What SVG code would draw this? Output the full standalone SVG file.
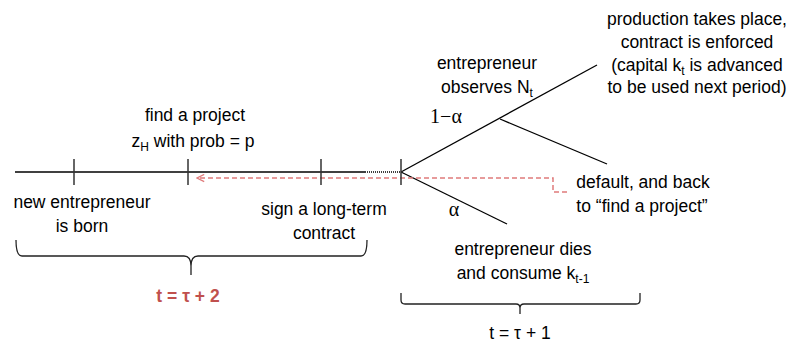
<svg xmlns="http://www.w3.org/2000/svg" width="793" height="342" viewBox="0 0 793 342">
<defs>
<style>
.t{font-family:"Liberation Sans","Open Sans",sans-serif;font-size:17.5px;fill:#000;text-anchor:middle}
.g{font-family:"Liberation Serif","Times New Roman",serif;font-size:20px;fill:#000;text-anchor:middle}
.s{font-size:12px}
.ln{stroke:#000;stroke-width:1.3;fill:none}
.tk{stroke:#333;stroke-width:1.5;fill:none}
.br{stroke:#222;stroke-width:1.3;fill:none}
.red{stroke:#e07b7b;stroke-width:1.5;stroke-dasharray:5 3;fill:none}
</style>
<marker id="ah" viewBox="0 0 10 10" refX="9" refY="5" markerWidth="9" markerHeight="9" markerUnits="userSpaceOnUse" orient="auto">
<path d="M1,1 L9,5 L1,9" fill="none" stroke="#e07b7b" stroke-width="1.4"/>
</marker>
</defs>
<g id="connectors">
<line class="ln" x1="15" y1="172" x2="365" y2="172"/>
<line x1="365" y1="172" x2="401" y2="172" stroke="#000" stroke-width="1.3" stroke-dasharray="1 1"/>
<line class="ln" x1="401" y1="172" x2="597" y2="65"/>
<line class="ln" x1="500" y1="119" x2="607" y2="164"/>
<line class="ln" x1="401" y1="172" x2="507" y2="224"/>
<path class="red" d="M567,192 L553,192 L553,178 L197,178" marker-end="url(#ah)"/>
</g>
<g id="ticks">
<line class="tk" x1="74" y1="159" x2="74" y2="185"/>
<line class="tk" x1="188" y1="159" x2="188" y2="185"/>
<line class="tk" x1="321" y1="159" x2="321" y2="185"/>
<line class="tk" x1="401" y1="159" x2="401" y2="185"/>
</g>
<g id="brace-left">
<path class="br" d="M16,240 Q16,256 22,256 L184,256 Q191,256 191,266 L191,275 M191,266 Q191,256 198,256 L361,256 Q367,256 367,240"/>
</g>
<g id="brace-right">
<path class="br" d="M401,293 L401,300 Q401,304 405,304 L516,304 Q520,304 520,308 L520,314 M520,308 Q520,304 524,304 L636,304 Q640,304 640,300 L640,293"/>
</g>
<g id="node-production">
<text class="t" x="697" y="25">production takes place,</text>
<text class="t" x="697" y="48">contract is enforced</text>
<text class="t" x="697" y="71">(capital k<tspan class="s" dy="4">t</tspan><tspan dy="-4"> is advanced</tspan></text>
<text class="t" x="697" y="93">to be used next period)</text>
</g>
<g id="node-observes">
<text class="t" x="487" y="69">entrepreneur</text>
<text class="t" x="487" y="93">observes N<tspan class="s" dy="4">t</tspan></text>
</g>
<g id="label-1-alpha">
<text class="g" x="446" y="123">1−α</text>
</g>
<g id="label-alpha">
<text class="g" x="454" y="216">α</text>
</g>
<g id="node-find">
<text class="t" x="195" y="121">find a project</text>
<text class="t" x="193" y="147">z<tspan class="s" dy="4">H</tspan><tspan dy="-4"> with prob = p</tspan></text>
</g>
<g id="node-born">
<text class="t" x="82" y="208">new entrepreneur</text>
<text class="t" x="82" y="232">is born</text>
</g>
<g id="node-sign">
<text class="t" x="324" y="215">sign a long-term</text>
<text class="t" x="324" y="239">contract</text>
</g>
<g id="node-default">
<text class="t" x="643" y="188">default, and back</text>
<text class="t" x="642" y="212">to “find a project”</text>
</g>
<g id="node-dies">
<text class="t" x="523" y="255">entrepreneur dies</text>
<text class="t" x="523" y="279">and consume k<tspan class="s" dy="4">t-1</tspan></text>
</g>
<g id="label-t2">
<text class="t" x="188" y="302" style="font-weight:bold;fill:#c0504d">t = τ + 2</text>
</g>
<g id="label-t1">
<text class="t" x="520" y="339">t = τ + 1</text>
</g>
</svg>
